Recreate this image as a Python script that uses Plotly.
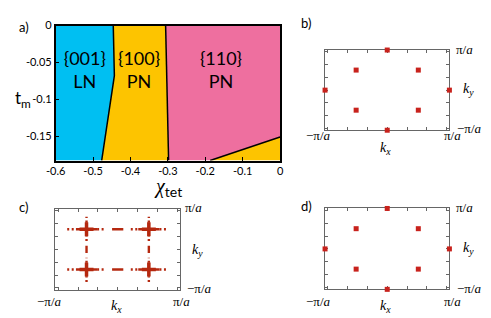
import numpy as np
import plotly.graph_objects as go

W, H = 491, 318

# ---------------- Panel a data (phase diagram) ----------------
chi_ticks = [-0.6, -0.5, -0.4, -0.3, -0.2, -0.1, 0.0]
chi_ticktext = ["-0.6", "-0.5", "-0.4", "-0.3", "-0.2", "-0.1", "0"]
tm_ticks = [0.0, -0.05, -0.1, -0.15]
tm_ticktext = ["0", "-0.05", "-0.1", "-0.15"]

blue_chi = [-0.6, -0.446, -0.443, -0.477, -0.6]
blue_tm = [0.0, 0.0, -0.068, -0.183, -0.183]
yellow_chi = [-0.446, -0.306, -0.298, -0.477, -0.443]
yellow_tm = [0.0, 0.0, -0.183, -0.183, -0.068]
pink_chi = [-0.306, 0.0, 0.0, -0.187, -0.298]
pink_tm = [0.0, 0.0, -0.151, -0.183, -0.183]
yellow2_chi = [-0.187, 0.0, 0.0]
yellow2_tm = [-0.183, -0.151, -0.183]

bound1_chi = [-0.446, -0.443, -0.477]
bound1_tm = [0.0, -0.068, -0.183]
bound2_chi = [-0.306, -0.298]
bound2_tm = [0.0, -0.183]
bound3_chi = [-0.187, 0.0]
bound3_tm = [-0.183, -0.151]

region_labels = ["{001}<br>LN", "{100}<br>PN", "{110}<br>PN"]
region_chi = [-0.522, -0.377, -0.158]
region_tm = [-0.063, -0.063, -0.063]

# ---------------- Panels b, d (points, units of pi/a) ----------------
kx_b = [0, -0.5, 0.5, -1, 1, -0.5, 0.5, 0]
ky_b = [1, 0.5, 0.5, 0, 0, -0.5, -0.5, -1]
kx_d = [0, -0.5, 0.5, -1, 1, -0.5, 0.5, 0]
ky_d = [1, 0.5, 0.5, 0, 0, -0.5, -0.5, -1]

# ---------------- Panel c (nodal lines, units of pi/a) ----------------
line_pos = [-0.5, 0.5]                    # positions of the lines
solid_segs = [(-0.67, -0.33), (0.33, 0.67), (-0.09, 0.09)]
dot_segs = [(-0.81, -0.67), (-0.33, -0.21), (0.21, 0.33), (0.67, 0.81)]

RED = "#C8221C"
DRED = "#B5280F"
GRAY = "#666666"

fig = go.Figure()

def px_x(x):
    return x / W

def px_y(y):
    return 1 - y / H

# panel a fills
for cx, cy, col in [(blue_chi, blue_tm, "#00BFF2"), (yellow_chi, yellow_tm, "#FDC400"),
                    (pink_chi, pink_tm, "#EE6F9F"), (yellow2_chi, yellow2_tm, "#FDC400")]:
    fig.add_trace(go.Scatter(x=cx + [cx[0]], y=cy + [cy[0]], mode="lines", fill="toself",
                             fillcolor=col, line=dict(width=0, color=col),
                             xaxis="x", yaxis="y", showlegend=False, hoverinfo="skip"))
for bx, by in [(bound1_chi, bound1_tm), (bound2_chi, bound2_tm), (bound3_chi, bound3_tm)]:
    fig.add_trace(go.Scatter(x=bx, y=by, mode="lines", line=dict(width=1.5, color="black"),
                             xaxis="x", yaxis="y", showlegend=False, hoverinfo="skip"))
fig.add_trace(go.Scatter(x=region_chi, y=region_tm, mode="text", text=region_labels,
                         textfont=dict(family="Lato", size=18, color="black"),
                         xaxis="x", yaxis="y", showlegend=False, hoverinfo="skip"))

# panels b and d
for kx, ky, ax in [(kx_b, ky_b, "2"), (kx_d, ky_d, "4")]:
    fig.add_trace(go.Scatter(x=kx, y=ky, mode="markers",
                             marker=dict(symbol="square", size=5, color=RED),
                             xaxis="x" + ax, yaxis="y" + ax, cliponaxis=False,
                             showlegend=False, hoverinfo="skip"))

# panel c
def seg_xy(segs, horizontal):
    xs, ys = [], []
    for p in line_pos:
        for a, b in segs:
            if horizontal:
                xs += [a, b, None]; ys += [p, p, None]
            else:
                xs += [p, p, None]; ys += [a, b, None]
    return xs, ys

for horiz in (True, False):
    xs, ys = seg_xy(solid_segs, horiz)
    fig.add_trace(go.Scatter(x=xs, y=ys, mode="lines", line=dict(width=2.4, color=DRED),
                             xaxis="x3", yaxis="y3", showlegend=False, hoverinfo="skip"))
    xs, ys = seg_xy(dot_segs, horiz)
    fig.add_trace(go.Scatter(x=xs, y=ys, mode="lines",
                             line=dict(width=2.4, color=DRED, dash="2px,2.5px"),
                             xaxis="x3", yaxis="y3", showlegend=False, hoverinfo="skip"))
cx_c, cy_c = [], []
for p in line_pos:
    for q in line_pos:
        cx_c.append(p); cy_c.append(q)
fig.add_trace(go.Scatter(x=cx_c, y=cy_c, mode="markers",
                         marker=dict(symbol="cross-thin", size=10, line=dict(width=3.5, color=DRED)),
                         xaxis="x3", yaxis="y3", showlegend=False, hoverinfo="skip"))

tick_font = dict(family="Lato", size=11, color="black")
layout = dict(
    width=W, height=H, margin=dict(l=0, r=0, t=0, b=0),
    paper_bgcolor="white", plot_bgcolor="white",
    xaxis=dict(domain=[px_x(47), px_x(278)], range=[-0.6, 0], tickvals=chi_ticks,
               ticktext=chi_ticktext, ticks="inside", ticklen=4, tickcolor="black",
               showline=True, linecolor="black", linewidth=1.5, mirror=True,
               showgrid=False, zeroline=False, tickfont=tick_font, anchor="y"),
    yaxis=dict(domain=[px_y(157), px_y(19)], range=[-0.183, 0], tickvals=tm_ticks,
               ticktext=tm_ticktext, ticks="inside", ticklen=4, tickcolor="black",
               showline=True, linecolor="black", linewidth=1.5, mirror=True,
               showgrid=False, zeroline=False, tickfont=tick_font, anchor="x"),
)

kticks = [n / np.pi for n in range(-3, 4)]
boxes = {"2": (324.3, 452.3, 44, 126), "3": (46.7, 175, 206.7, 289), "4": (324.3, 452.3, 206, 288.7)}
for ax, (x0, x1, y0, y1) in boxes.items():
    common = dict(range=[-1, 1], tickvals=kticks, showticklabels=False, ticks="inside",
                  ticklen=3, tickcolor=GRAY, tickwidth=1, showline=True, linecolor=GRAY,
                  linewidth=1, mirror="ticks", showgrid=False, zeroline=False,
                  layer="below traces")
    layout["xaxis" + ax] = dict(domain=[px_x(x0), px_x(x1)], anchor="y" + ax, **common)
    layout["yaxis" + ax] = dict(domain=[px_y(y1), px_y(y0)], anchor="x" + ax, **common)

fig.update_layout(**layout)

annots = []
def ann(text, x, y, size=12, family="Liberation Serif", xanchor="center", yanchor="middle"):
    annots.append(dict(text=text, x=px_x(x), y=px_y(y), xref="paper", yref="paper",
                       showarrow=False, xanchor=xanchor, yanchor=yanchor,
                       font=dict(family=family, size=size, color="black")))

# panel labels
ann("a)", 14, 20, size=13, family="Lato")
ann("b)", 305, 16, size=13, family="Lato")
ann("c)", 14, 205, size=13, family="Lato")
ann("d)", 305, 203, size=13, family="Lato")

# panel a axis titles
ann("t<sub>m</sub>", 13, 94, size=17, family="Lato")
ann("<span style='font-family:Liberation Serif'><i>χ</i></span><sub>tet</sub>",
    163, 185, size=20, family="Lato")

# k-space labels
PI = "π/<i>a</i>"
MPI = "−π/<i>a</i>"
KX = "<i>k<sub>x</sub></i>"
KY = "<i>k<sub>y</sub></i>"
for (tr_y, br_y, ky_y, bl_x, br_x, bot_y, kx_x, kx_y, rx, rx2, kyx) in [
        (43, 124, 84, 318, 455, 131.5, 386.5, 145, 467.5, 472.5, 471.5),
        (205, 288, 249, 41, 177, 301.5, 110, 306, 188.5, 195, 193),
        (205, 288, 247, 318, 455, 301, 386.5, 306, 467.5, 472.5, 471.5)]:
    ann(PI, rx, tr_y, size=13)
    ann(MPI, rx2, br_y, size=13)
    ann(KY, kyx, ky_y, size=14)
    ann(MPI, bl_x, bot_y, size=13)
    ann(PI, br_x, bot_y, size=13)
    ann(KX, kx_x, kx_y, size=14)

fig.update_layout(annotations=annots)
fig.write_html("out.html", config={"displayModeBar": False},
               post_script="document.body.style.margin='0px';")
